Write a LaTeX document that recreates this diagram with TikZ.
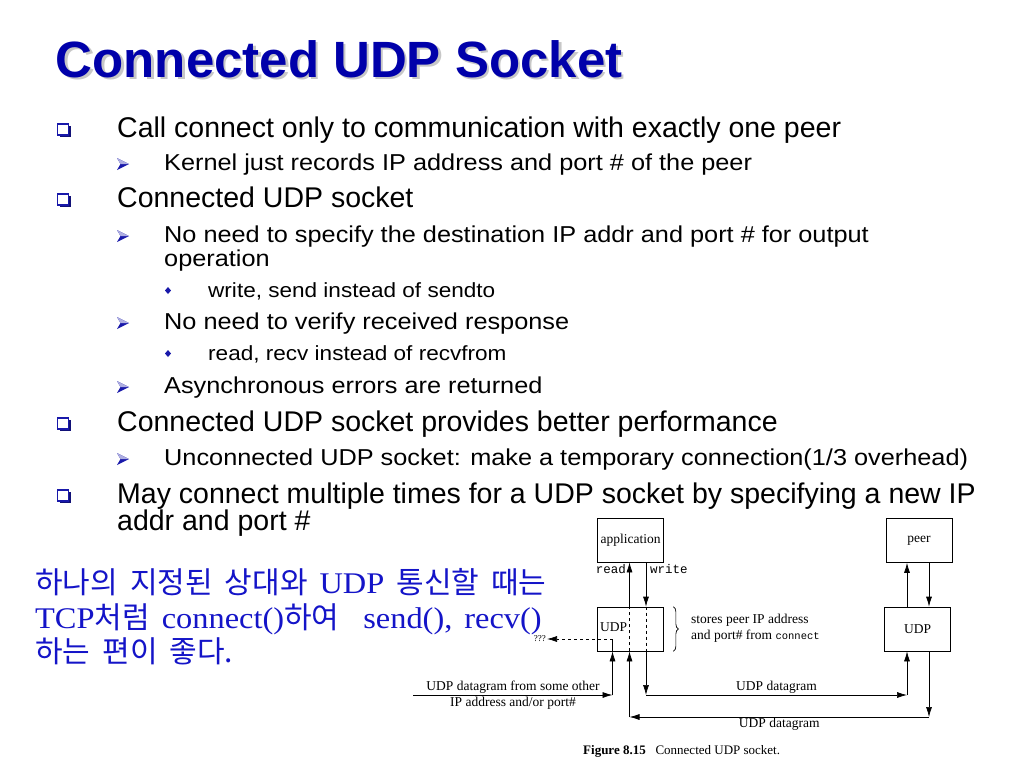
\documentclass[tikz,border=0pt]{standalone}
\usepackage{fontspec}
\setmainfont{Liberation Sans}
\newfontfamily\subfont{Liberation Sans}[FakeStretch=1.1]
\newfontfamily\figfont{Liberation Serif}
\newfontfamily\krlat{Liberation Serif}[FakeStretch=1.08]
\newfontfamily\figmono{Liberation Mono}
\newfontfamily\krfont{Noto Sans CJK KR}
\usetikzlibrary{shadows,decorations.pathreplacing,arrows.meta}

\definecolor{titleblue}{RGB}{0,0,170}
\definecolor{bulblue}{RGB}{25,25,170}
\definecolor{krblue}{RGB}{20,20,200}
\newcommand\figlab{\figfont\fontsize{13.5}{16}\selectfont}
\newcommand\krsp{\spaceskip=12pt plus 2pt\relax}

\tikzset{
  l1/.style={anchor=base west, inner sep=0pt, font=\fontsize{28.5}{30}\selectfont},
  l2/.style={anchor=base west, inner sep=0pt, font=\subfont\fontsize{23}{24}\selectfont},
  l3/.style={anchor=base west, inner sep=0pt, font=\subfont\fontsize{20.5}{22}\selectfont},
  sqb/.style={draw=bulblue, line width=1.5pt, fill=white, minimum size=11pt, inner sep=0pt,
    drop shadow={shadow xshift=2pt, shadow yshift=-2pt, fill=bulblue!70!black, opacity=1}},
  arwb/.pic={\fill[bulblue] (-6,-6) -- (6,0) -- (-6,6) -- (-2.5,0) -- cycle;
    \fill[bulblue!35] (-6,-6) -- (6,0) -- (-2.5,0) -- cycle;},
  diab/.pic={\fill[bulblue] (0,-3.5) -- (3,0) -- (0,3.5) -- (-3,0) -- cycle;},
  fbox/.style={draw, line width=0.7pt, minimum width=66pt, minimum height=44pt, inner sep=0pt, font=\figlab},
  flab/.style={inner sep=1pt, font=\figlab},
  fmono/.style={inner sep=0pt, font=\figmono\fontsize{12.5}{14}\selectfont},
  wire/.style={line width=0.7pt},
  arr/.style={wire, -{Latex[length=10pt,width=6pt]}},
  krtxt/.style={anchor=base west, inner sep=0pt, text=krblue,
    font=\krlat\fontsize{30}{32}\selectfont, execute at begin node=\krsp},
}

\begin{document}
\begin{tikzpicture}[x=1pt,y=-1pt]
\useasboundingbox (0,0) rectangle (1024,768);
\fill[white] (0,0) rectangle (1024,768);

% title
\node[anchor=base west, inner sep=0pt, text=black!22, font=\fontsize{51}{60}\bfseries] (titsh) at (58,79.5) {Connected UDP Socket};
\node[anchor=base west, inner sep=0pt, text=titleblue, font=\fontsize{51}{60}\bfseries] (tit) at (55.5,77.3) {Connected UDP Socket};

% bullets
\node[sqb] (b1) at (63,129.5) {};
\node[l1] (t1) at (117,137) {Call connect only to communication with exactly one peer};
\pic at (123,164) {arwb};
\node[l2] (t2) at (164,170) {Kernel just records IP address and port \# of the peer};
\node[sqb] (b3) at (63,199.5) {};
\node[l1] (t3) at (117,207) {Connected UDP socket};
\pic at (123,236) {arwb};
\node[l2] (t4) at (164,242) {No need to specify the destination IP addr and port \# for output};
\node[l2] (t5) at (164,266) {operation};
\pic at (168,290.5) {diab};
\node[l3] (t6) at (208,297) {write, send instead of sendto};
\pic at (123,323) {arwb};
\node[l2] (t7) at (164,329) {No need to verify received response};
\pic at (168,353.5) {diab};
\node[l3] (t8) at (208,360) {read, recv instead of recvfrom};
\pic at (123,387) {arwb};
\node[l2] (t9) at (164,393) {Asynchronous errors are returned};
\node[sqb] (b10) at (63,423.5) {};
\node[l1] (t10) at (117,431) {Connected UDP socket provides better performance};
\pic at (123,459) {arwb};
\node[l2] (t11) at (164,465) {Unconnected UDP socket: make a temporary connection(1/3 overhead)};
\node[sqb] (b12) at (63,495.5) {};
\node[l1] (t12) at (117,503) {May connect multiple times for a UDP socket by specifying a new IP};
\node[l1] (t13) at (117,530) {addr and port \#};

% korean note
\node[krtxt] (kr1) at (35,593) {{\krfont 하나의 지정된 상대와} UDP {\krfont 통신할 때는}};
\node[krtxt] (kr2) at (35,628) {TCP{\krfont 처럼} connect(){\krfont 하여}~ send(), recv()};
\node[krtxt] (kr3) at (35,662) {{\krfont 하는 편이 좋다.}};

% figure
\node[fbox] (app) at (630.5,540) {application};
\node[fbox] (peer) at (919,540.5) {peer};
\node[fbox] (udpL) at (630,629) {};
\node[flab, anchor=west] (udpLt) at (599,627) {UDP};
\node[fbox] (udpR) at (917.5,629) {UDP};

\coordinate (w1) at (646,695);
\coordinate (w2) at (907,695);
\coordinate (r1) at (929,717);
\coordinate (r2) at (629.5,717);
\coordinate (o0) at (413,695);
\coordinate (o1) at (612.5,695);
\coordinate (o2) at (612.5,639);
\coordinate (q) at (547,639);

\draw[arr] (app.south -| w1) -- (udpL.north -| w1);
\draw[wire, dashed] (udpL.north -| w1) -- (udpL.south -| w1);
\draw[arr] (udpL.south -| w1) -- (w1);
\draw[arr] (w1) -- node[flab, above] (dg1) {UDP datagram} (w2);
\draw[arr] (w2) -- (udpR.south -| w2);
\draw[arr] (udpR.north -| w2) -- (peer.south -| w2);
\draw[arr] (peer.south -| r1) -- (udpR.north -| r1);
\draw[arr] (udpR.south -| r1) -- (r1);
\draw[arr] (r1) -- node[flab, below] (dg2) {UDP datagram} (r2);
\draw[arr] (r2) -- (udpL.south -| r2);
\draw[wire, dashed] (udpL.south -| r2) -- (udpL.north -| r2);
\draw[arr] (udpL.north -| r2) -- (app.south -| r2);
\draw[arr] (o0) -- (o1);
\draw[arr] (o1) -- (udpL.south -| o1);
\draw[wire] (udpL.south -| o1) -- (o2);
\draw[arr, dashed] (o2) -- (q);
\node[flab, anchor=east, font=\figfont\fontsize{9}{10}\selectfont] (qq) at (q) {???};

\node[fmono, anchor=base east] (rd) at (626,573) {read};
\node[fmono, anchor=base west] (wr) at (650,573) {write};
\node[flab, align=center] (oth) at (513,695) {UDP datagram from some other\\IP address and/or port\#};

\draw[wire, decorate, decoration={brace, amplitude=5pt}] ([xshift=10pt]udpL.north east) -- ([xshift=10pt]udpL.south east);
\node[flab, anchor=west, align=left] (note) at (690,628) {stores peer IP address\\and port\# from {\figmono\fontsize{10.5}{12}\selectfont connect}};

\node[anchor=base west, inner sep=0pt, font=\figfont\fontsize{13}{15}\selectfont] (cap) at (583,754) {\textbf{Figure 8.15}\enspace\ Connected UDP socket.};
\end{tikzpicture}
\end{document}
